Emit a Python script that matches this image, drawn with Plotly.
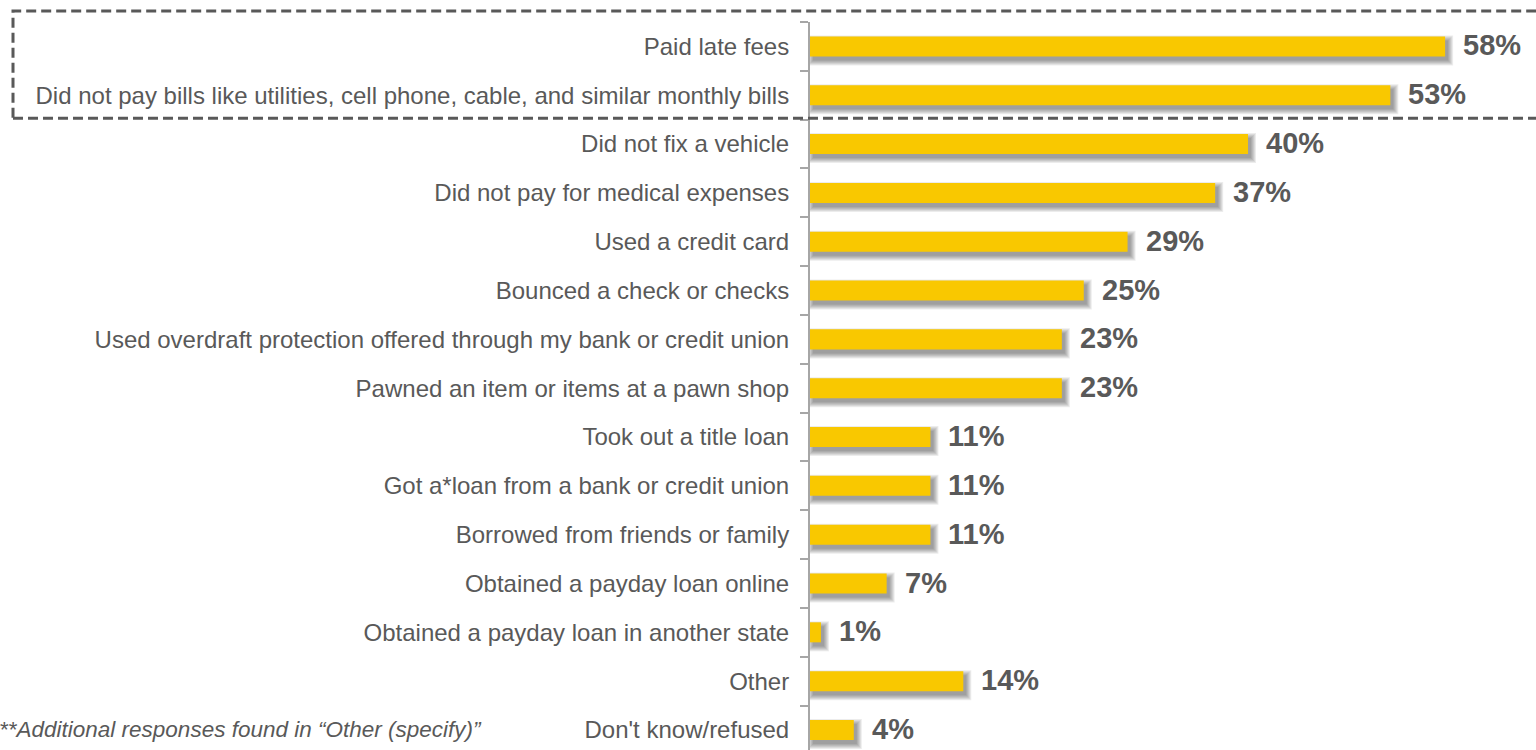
import plotly.graph_objects as go

# Survey responses: what people did when they could not cover an expense
categories = [
    "Paid late fees",
    "Did not pay bills like utilities, cell phone, cable, and similar monthly bills",
    "Did not fix a vehicle",
    "Did not pay for medical expenses",
    "Used a credit card",
    "Bounced a check or checks",
    "Used overdraft protection offered through my bank or credit union",
    "Pawned an item or items at a pawn shop",
    "Took out a title loan",
    "Got a*loan from a bank or credit union",
    "Borrowed from friends or family",
    "Obtained a payday loan online",
    "Obtained a payday loan in another state",
    "Other",
    "Don't know/refused",
]
percent = [58, 53, 40, 37, 29, 25, 23, 23, 11, 11, 11, 7, 1, 14, 4]
highlighted = categories[:2]
footnote = "**Additional responses found in \u201cOther (specify)\u201d"

BAR_COLOR = "#F9C800"
TEXT_COLOR = "#595959"
FONT = "Liberation Sans, Arial, sans-serif"

W, H = 1536, 750
M_L, M_T = 810, 22
X_MAX = 66.3
Y_RANGE = [14.41, -0.5]

plot_w = W - M_L
plot_h = H - M_T
px_x = plot_w / X_MAX                      # pixels per percentage point
px_y = plot_h / (Y_RANGE[0] - Y_RANGE[1])  # pixels per category step


def cat_to_paper(pos):
    """Category position (0 = top row) to paper y."""
    return (Y_RANGE[0] - pos) / (Y_RANGE[0] - Y_RANGE[1])


bar_w = 0.41
fig = go.Figure()

# soft drop shadow: stacked translucent bars, offset down and right
for spread in [5, 4, 3, 2, 1, 0]:
    dx = (3 - spread) / px_x
    w = bar_w + 2 * spread / px_y
    fig.add_trace(go.Bar(
        y=categories, x=[v + 2 * spread / px_x for v in percent],
        base=dx, orientation="h",
        width=w, offset=-w / 2 + 4 / px_y,
        marker=dict(color="rgba(0,0,0,0.075)", line=dict(width=0)),
        hoverinfo="skip", showlegend=False,
    ))

fig.add_trace(go.Bar(
    y=categories, x=percent, orientation="h",
    width=bar_w,
    marker=dict(color=BAR_COLOR, line=dict(width=0)),
    showlegend=False,
))

# value labels at the end of each bar
for cat, v in zip(categories, percent):
    fig.add_annotation(
        x=v, y=cat, xref="x", yref="y", text=f"<b>{v}%</b>",
        showarrow=False, xanchor="left", yanchor="middle", xshift=16, yshift=1,
        font=dict(family=FONT, size=29, color=TEXT_COLOR),
    )

# dashed frame around the top two responses
i_last = categories.index(highlighted[-1])
fig.add_shape(
    type="rect", xref="paper", yref="paper",
    x0=(13 - M_L) / plot_w, x1=(W + 10 - M_L) / plot_w,
    y0=cat_to_paper(i_last + 0.47), y1=cat_to_paper(-0.5 - 11 / px_y),
    line=dict(color=TEXT_COLOR, width=3, dash="10px,5px"),
    fillcolor="rgba(0,0,0,0)", layer="above",
)

fig.add_annotation(
    x=(-3 - M_L) / plot_w, y=categories[-1], xref="paper", yref="y",
    text=f"<i>{footnote}</i>", showarrow=False, xanchor="left", yanchor="middle",
    font=dict(family=FONT, size=22.5, color=TEXT_COLOR),
)

fig.update_layout(
    width=W, height=H,
    margin=dict(l=M_L, r=0, t=M_T, b=0, pad=0),
    plot_bgcolor="white", paper_bgcolor="white",
    barmode="overlay",
    font=dict(family=FONT, color=TEXT_COLOR),
    xaxis=dict(range=[0, X_MAX], visible=False, fixedrange=True),
    yaxis=dict(
        type="category", categoryorder="array", categoryarray=categories,
        range=Y_RANGE, showline=True, linecolor="#A6A6A6", linewidth=2,
        ticks="outside", tickson="boundaries", ticklen=8, tickwidth=2,
        tickcolor="#A6A6A6", ticklabelstandoff=14,
        tickfont=dict(family=FONT, size=24, color=TEXT_COLOR),
        showgrid=False, zeroline=False, fixedrange=True,
    ),
)

fig.write_html("out.html")
